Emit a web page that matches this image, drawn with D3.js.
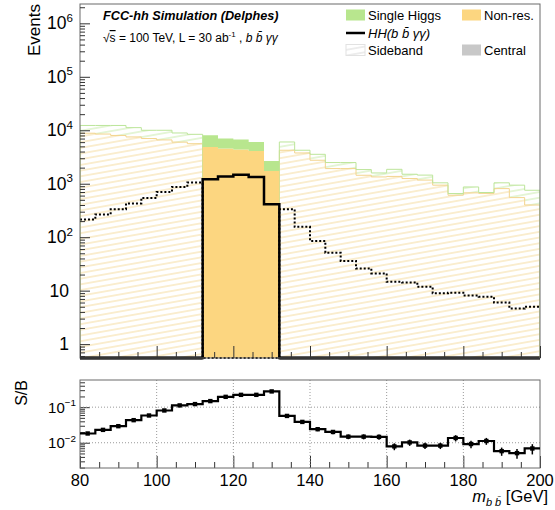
<!DOCTYPE html>
<html>
<head>
<meta charset="utf-8">
<script src="https://cdn.jsdelivr.net/npm/d3@7/dist/d3.min.js"></script>
<style>
  body { margin: 0; background: #fff; }
  svg text { font-family: "Liberation Sans", Arial, Helvetica, sans-serif; fill: #000; }
</style>
</head>
<body>
<svg id="chart" width="555" height="510"></svg>
<script>
// m_bb bins (lower edges, GeV), 4 GeV wide
const binLow = [80, 84, 88, 92, 96, 100, 104, 108, 112, 116, 120, 124, 128, 132, 136,
                140, 144, 148, 152, 156, 160, 164, 168, 172, 176, 180, 184, 188, 192, 196];
const binWidth = 4;
// central m_bb window; everything else is sideband
const centralWindow = [112, 132];

// stacked backgrounds (events / bin)
const nonRes = [8800, 8500, 8000, 7500, 7000, 6600, 6000, 5600, 4870, 4550, 4370, 4100, 1730, 4230, 3760,
                2750, 1920, 1920, 1440, 1340, 1370, 1250, 1170, 940, 610, 675, 660, 810, 550, 400];
const singleHiggs = [3500, 3800, 4300, 3700, 3000, 3400, 2900, 2800, 3200, 2450, 2330, 1940, 940, 1810, 470,
                     800, 570, 570, 400, 250, 490, 255, 280, 100, 45, 195, 25, 230, 390, 355];
// HH(bbyy) signal
const hhSignal = [214, 266, 333, 427, 543, 703, 871, 1050, 1213, 1360, 1480, 1340, 414, 333, 156,
                  85, 51, 36, 26, 21, 14.6, 14.2, 11.8, 8.9, 9.1, 8.1, 7.7, 6.0, 4.65, 5.0];

// signal over background and its relative uncertainty
const sOverB = [0.0182, 0.0230, 0.0292, 0.0431, 0.0583, 0.0807, 0.112, 0.122, 0.148, 0.195, 0.222, 0.222, 0.277, 0.0567, 0.0385,
                0.0240, 0.0201, 0.0148, 0.0148, 0.0146, 0.0079, 0.0102, 0.0083, 0.0083, 0.0136, 0.0092, 0.0112, 0.0058, 0.0051, 0.0069];
const sOverBRelErr = [0.05, 0.05, 0.05, 0.05, 0.05, 0.04, 0.04, 0.04, 0.04, 0.04, 0.04, 0.04, 0.04, 0.08, 0.10,
                      0.12, 0.14, 0.15, 0.16, 0.17, 0.22, 0.20, 0.20, 0.20, 0.20, 0.24, 0.22, 0.26, 0.30, 0.32];

const xTicksMajor = [80, 100, 120, 140, 160, 180, 200];
const yTopDecades = [1, 10, 100, 1e3, 1e4, 1e5, 1e6];
const yTopLabels = [["1", ""], ["10", ""], ["10", "2"], ["10", "3"], ["10", "4"], ["10", "5"], ["10", "6"]];
const yRatioDecades = [0.01, 0.1];
const yRatioLabels = [["10", "\u22122"], ["10", "\u22121"]];

const legendRows = [
  { label: "Single Higgs", kind: "fillGreen", col: 0, row: 0 },
  { label: "Non-res.", kind: "fillOrange", col: 1, row: 0 },
  { label: "HH", kind: "line", col: 0, row: 1 },
  { label: "Sideband", kind: "hatch", col: 0, row: 2 },
  { label: "Central", kind: "fillGray", col: 1, row: 2 }
];

const C = {
  orange: "#fcd680", green: "#b8e68e",
  orangeHatch: "#f6deA2", greenHatch: "#cdedb0",
  orangeLine: "#f3d48e", greenLine: "#bce59a",
  frame: "#6a6a6a", gray: "#c8c8c8"
};

const svg = d3.select("#chart");
const defs = svg.append("defs");

// frames
const mainF = { l: 80, r: 540, t: 4, b: 358 };
const ratioF = { l: 80, r: 540, t: 380, b: 468 };

const x = d3.scaleLinear().domain([80, 200]).range([mainF.l, mainF.r]);
const yTop = d3.scaleLog().domain([0.55, 2.3e6]).range([mainF.b, mainF.t]);
const yRat = d3.scaleLog().domain([0.00195, 0.58]).range([ratioF.b, ratioF.t]);

const yT = v => yTop(Math.max(v, yTop.domain()[0]));

function hatchPattern(id, color) {
  const p = defs.append("pattern").attr("id", id)
    .attr("patternUnits", "userSpaceOnUse")
    .attr("width", 30).attr("height", 5.6)
    .attr("patternTransform", "rotate(-10)");
  p.append("line").attr("x1", 0).attr("x2", 30).attr("y1", 2.8).attr("y2", 2.8)
    .attr("stroke", color).attr("stroke-width", 1);
}
hatchPattern("hatchOrange", C.orangeHatch);
hatchPattern("hatchGreen", C.greenHatch);
hatchPattern("hatchLegend", "#dcdcdc");

defs.append("clipPath").attr("id", "clipTop").append("rect")
  .attr("x", mainF.l).attr("y", mainF.t).attr("width", mainF.r - mainF.l).attr("height", mainF.b - mainF.t + 3);

const isCentral = i => binLow[i] >= centralWindow[0] && binLow[i] < centralWindow[1];
const total = nonRes.map((v, i) => v + singleHiggs[i]);

// contiguous groups of bins
function groups(pred) {
  const out = []; let cur = null;
  binLow.forEach((_, i) => {
    if (pred(i)) { if (!cur) { cur = []; out.push(cur); } cur.push(i); } else cur = null;
  });
  return out;
}
const sideGroups = groups(i => !isCentral(i));
const centralGroups = groups(isCentral);

const area = d3.area().x(d => d.x).y0(d => d.y0).y1(d => d.y1);
const line = d3.line().x(d => d[0]).y(d => d[1]);

function bandPoints(idx, lo, hi) {
  const pts = [];
  idx.forEach(i => {
    const a = x(binLow[i]), b = x(binLow[i] + binWidth);
    pts.push({ x: a, y0: lo(i), y1: hi(i) }, { x: b, y0: lo(i), y1: hi(i) });
  });
  return pts;
}
function stepPoints(idx, val, close) {
  const pts = [];
  const first = idx[0], last = idx[idx.length - 1];
  if (close) pts.push([x(binLow[first]), mainF.b]);
  idx.forEach(i => {
    pts.push([x(binLow[i]), val(i)], [x(binLow[i] + binWidth), val(i)]);
  });
  if (close) pts.push([x(binLow[last] + binWidth), mainF.b]);
  return pts;
}

const gTop = svg.append("g").attr("clip-path", "url(#clipTop)");

// sideband: hatched stack
sideGroups.forEach(idx => {
  gTop.append("path").attr("d", area(bandPoints(idx, () => mainF.b, i => yT(nonRes[i]))))
    .attr("fill", "url(#hatchOrange)");
  gTop.append("path").attr("d", area(bandPoints(idx, i => yT(nonRes[i]), i => yT(total[i]))))
    .attr("fill", "url(#hatchGreen)");
  gTop.append("path").attr("d", line(stepPoints(idx, i => yT(nonRes[i]), true)))
    .attr("fill", "none").attr("stroke", C.orangeLine).attr("stroke-width", 1);
  gTop.append("path").attr("d", line(stepPoints(idx, i => yT(total[i]), true)))
    .attr("fill", "none").attr("stroke", C.greenLine).attr("stroke-width", 1);
});

// central: solid stack
centralGroups.forEach(idx => {
  gTop.append("path").attr("d", area(bandPoints(idx, () => mainF.b, i => yT(nonRes[i]))))
    .attr("fill", C.orange);
  gTop.append("path").attr("d", area(bandPoints(idx, i => yT(nonRes[i]), i => yT(total[i]))))
    .attr("fill", C.green);
});

// ---- axes ----
svg.append("rect").attr("x", mainF.l).attr("y", mainF.t).attr("width", mainF.r - mainF.l).attr("height", mainF.b - mainF.t)
  .attr("fill", "none").attr("stroke", C.frame).attr("stroke-width", 1);

function logMinors(scale) {
  const [d0, d1] = scale.domain();
  const out = [];
  for (let e = Math.floor(Math.log10(d0)); e <= Math.ceil(Math.log10(d1)); e++) {
    for (let m = 2; m <= 9; m++) {
      const v = m * Math.pow(10, e);
      if (v >= d0 && v <= d1) out.push(v);
    }
  }
  return out;
}
const xMinor = d3.range(80, 201, 5).filter(v => v % 20 !== 0);

function drawAxis(g, axis) {
  g.call(axis);
  g.select(".domain").remove();
  g.selectAll(".tick line").attr("stroke", "#333").attr("stroke-width", 1);
  g.selectAll(".tick text").remove();
}

[[mainF, yTop, yTopDecades], [ratioF, yRat, yRatioDecades]].forEach(([f, ys, dec]) => {
  drawAxis(svg.append("g").attr("transform", `translate(${f.l},0)`),
    d3.axisLeft(ys).tickValues(dec).tickSize(-10));
  drawAxis(svg.append("g").attr("transform", `translate(${f.l},0)`),
    d3.axisLeft(ys).tickValues(logMinors(ys)).tickSize(-5));
  drawAxis(svg.append("g").attr("transform", `translate(0,${f.b})`),
    d3.axisBottom(x).tickValues(xTicksMajor).tickSize(-12));
  drawAxis(svg.append("g").attr("transform", `translate(0,${f.b})`),
    d3.axisBottom(x).tickValues(xMinor).tickSize(-6));
});

// y labels with superscripts
function powLabel(g, xr, y, parts, size) {
  const t = g.append("text").attr("x", xr).attr("y", y).attr("text-anchor", "end")
    .attr("font-size", size);
  t.append("tspan").text(parts[0]);
  if (parts[1]) t.append("tspan").attr("dy", -size * 0.42).attr("font-size", size * 0.66).text(parts[1]);
  return t;
}
yTopDecades.forEach((v, i) => {
  const lbl = yTopLabels[i];
  powLabel(svg, lbl[1] ? 73 : 69, yTop(v) + 6, lbl, 17.5);
});
yRatioDecades.forEach((v, i) => {
  powLabel(svg, 76, yRat(v) + 5.5, yRatioLabels[i], 15);
});

// titles
svg.append("text").attr("transform", "translate(40,4) rotate(-90)")
  .attr("text-anchor", "end").attr("font-size", 17).text("Events");
svg.append("text").attr("transform", "translate(27,380) rotate(-90)")
  .attr("text-anchor", "end").attr("font-size", 16).text("S/B");

xTicksMajor.forEach(v => {
  svg.append("text").attr("x", x(v)).attr("y", 486).attr("text-anchor", "middle")
    .attr("font-size", 16.5).text(v);
});
const xt = svg.append("text").attr("x", 548).attr("y", 502).attr("text-anchor", "end").attr("font-size", 16.5);
xt.append("tspan").attr("font-style", "italic").text("m");
xt.append("tspan").attr("font-style", "italic").attr("font-size", 11).attr("dy", 4).text("b b\u0304");
xt.append("tspan").attr("dy", -4).text(" [GeV]");

// ---- HH signal ----
const allIdx = binLow.map((_, i) => i);
gTop.append("path")
  .attr("d", line(stepPoints(allIdx, i => isCentral(i) ? mainF.b : yT(hhSignal[i]), false)))
  .attr("fill", "none").attr("stroke", "#000").attr("stroke-width", 2).attr("stroke-dasharray", "2,2");
gTop.append("path")
  .attr("d", line(stepPoints(allIdx, i => isCentral(i) ? yT(hhSignal[i]) : mainF.b, false)))
  .attr("fill", "none").attr("stroke", "#000").attr("stroke-width", 2.5);
sideGroups.forEach(idx => {
  gTop.append("line").attr("x1", x(binLow[idx[0]])).attr("x2", x(binLow[idx[idx.length - 1]] + binWidth))
    .attr("y1", mainF.b).attr("y2", mainF.b).attr("stroke", "#000").attr("stroke-width", 3);
});

// ---- header text ----
svg.append("text").attr("x", 103).attr("y", 20).attr("font-size", 12.7)
  .attr("font-weight", "bold").attr("font-style", "italic").text("FCC-hh Simulation (Delphes)");
const sub = svg.append("text").attr("x", 103).attr("y", 42).attr("font-size", 12);
sub.append("tspan").text("\u221A");
sub.append("tspan").style("text-decoration", "overline").text("s");
sub.append("tspan").text(" = 100 TeV, L = 30 ab");
sub.append("tspan").attr("dy", -5).attr("font-size", 8).text("-1");
sub.append("tspan").attr("dy", 5).text("  ,  ");
sub.append("tspan").attr("font-style", "italic").text("b b\u0304 \u03B3\u03B3");

// ---- legend ----
const legCol = [346, 462];
const legRow = [15, 33, 50];
legendRows.forEach(e => {
  const x0 = legCol[e.col], yc = legRow[e.row];
  const g = svg.append("g");
  if (e.kind === "line") {
    g.append("line").attr("x1", x0).attr("x2", x0 + 19).attr("y1", yc).attr("y2", yc)
      .attr("stroke", "#000").attr("stroke-width", 2.5);
  } else {
    const fill = e.kind === "fillGreen" ? C.green : e.kind === "fillOrange" ? C.orange
      : e.kind === "fillGray" ? C.gray : "url(#hatchLegend)";
    g.append("rect").attr("x", x0).attr("y", yc - 5.5).attr("width", 19).attr("height", 11)
      .attr("fill", fill).attr("stroke", e.kind === "hatch" ? "#e2e2e2" : "none");
  }
  const t = g.append("text").attr("x", x0 + 22).attr("y", yc + 4.5).attr("font-size", 13);
  if (e.kind === "line") {
    t.attr("font-style", "italic").text("HH(b b\u0304 \u03B3\u03B3)");
  } else t.text(e.label);
});

// ---- ratio panel ----
const gB = svg.append("g");
xTicksMajor.slice(1, -1).forEach(v => {
  gB.append("line").attr("x1", x(v)).attr("x2", x(v)).attr("y1", ratioF.t).attr("y2", ratioF.b)
    .attr("stroke", "#999").attr("stroke-width", 1).attr("stroke-dasharray", "1,2");
});
yRatioDecades.forEach(v => {
  gB.append("line").attr("x1", ratioF.l).attr("x2", ratioF.r).attr("y1", yRat(v)).attr("y2", yRat(v))
    .attr("stroke", "#999").attr("stroke-width", 1).attr("stroke-dasharray", "1,2");
});
gB.append("rect").attr("x", ratioF.l).attr("y", ratioF.t).attr("width", ratioF.r - ratioF.l).attr("height", ratioF.b - ratioF.t)
  .attr("fill", "none").attr("stroke", C.frame).attr("stroke-width", 1);

const ratioPts = [];
allIdx.forEach(i => {
  ratioPts.push([x(binLow[i]), yRat(sOverB[i])], [x(binLow[i] + binWidth), yRat(sOverB[i])]);
});
gB.append("path").attr("d", line(ratioPts)).attr("fill", "none")
  .attr("stroke", "#000").attr("stroke-width", 2.2);
allIdx.forEach(i => {
  const cx = x(binLow[i] + binWidth / 2);
  const v = sOverB[i], e = sOverBRelErr[i];
  gB.append("line").attr("x1", cx).attr("x2", cx)
    .attr("y1", yRat(v * (1 - e))).attr("y2", yRat(v * (1 + e)))
    .attr("stroke", "#000").attr("stroke-width", 1.5);
  gB.append("rect").attr("x", cx - 2.2).attr("y", yRat(v) - 2.2).attr("width", 4.4).attr("height", 4.4)
    .attr("fill", "#000");
});
</script>
</body>
</html>
